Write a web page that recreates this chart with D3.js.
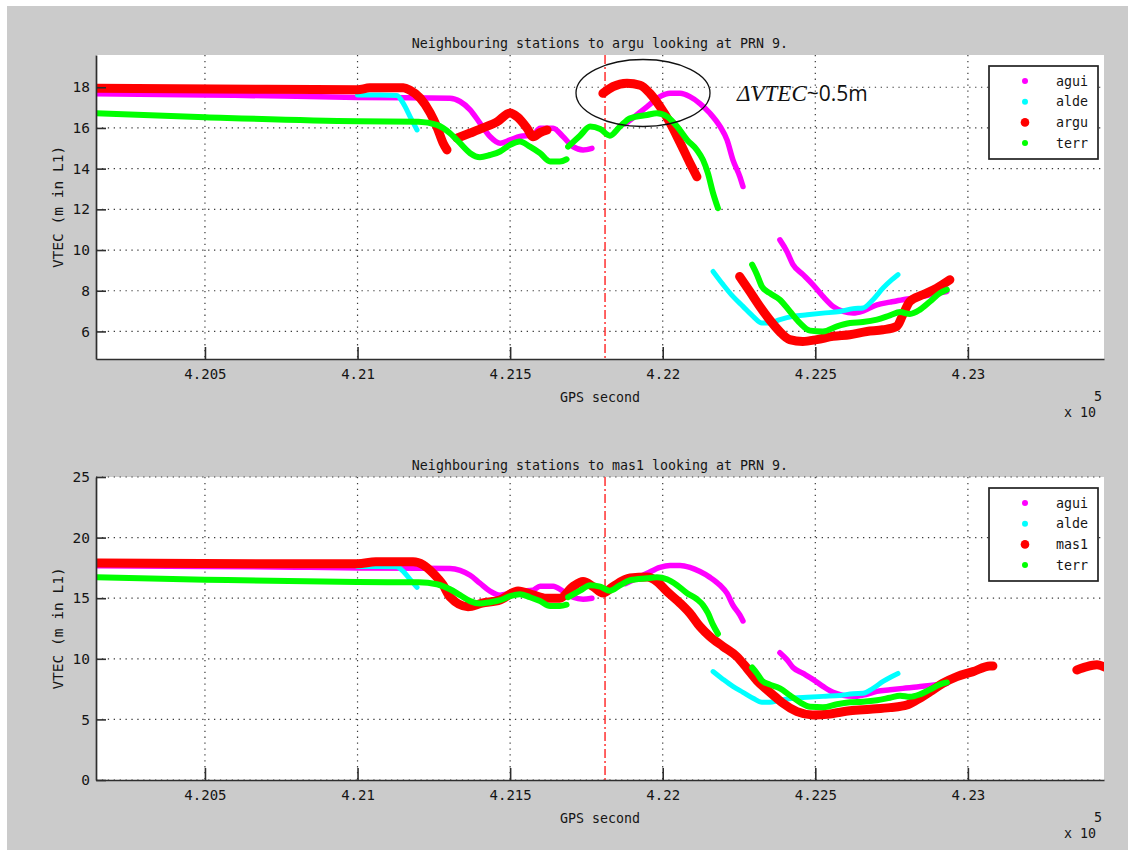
<!DOCTYPE html>
<html>
<head>
<meta charset="utf-8">
<script src="https://cdn.jsdelivr.net/npm/d3@7"></script>
<style>
  body { margin: 0; background: #fff; }
  svg { display: block; }
  .lbl { font-family: "DejaVu Sans Mono", "Liberation Mono", monospace; font-size: 13.3px; fill: #151515; }
  .axis path, .axis line { stroke: #2e2e2e; }
  .axis path { stroke-width: 1.7; }
  .axis line { stroke-width: 1.6; }
  .grid line { stroke: #3a3a3a; stroke-width: 1.2; stroke-dasharray: 1.3,4.6; }
</style>
</head>
<body>
<div id="chart"></div>
<script>
"use strict"

// ---- data (GPS second, VTEC in m of L1) ----
const xTicks = [420500, 421000, 421500, 422000, 422500, 423000];
const xTickLabels = ["4.205", "4.21", "4.215", "4.22", "4.225", "4.23"];
const yTicksTop = [6, 8, 10, 12, 14, 16, 18];
const yTicksBottom = [0, 5, 10, 15, 20, 25];
const eventGps = 421811;

const aguiGps = [420143, 420500, 420800, 421000, 421303, 421336, 421369, 421401, 421434, 421467, 421500, 421532, 421575, 421598, 421641, 421673, 421706, 421739, 421768,
  null, 421877, 421903, 421949, 421991, 422024, 422057, 422089, 422122, 422155, 422188, 422211, 422230, 422253, 422263,
  null, 422384, 422407, 422427, 422460, 422492, 422525, 422558, 422591, 422624, 422656, 422702, 422745, 422787, 422833, 422876, 422931];
const aguiVtec = [17.68, 17.62, 17.56, 17.5, 17.46, 17.3, 16.89, 16.24, 15.58, 15.25, 15.41, 15.58, 15.66, 15.99, 15.99, 15.58, 15.08, 14.92, 15.0,
  null, 16.2, 16.5, 17.05, 17.54, 17.7, 17.7, 17.54, 17.2, 16.72, 16.07, 15.4, 14.43, 13.6, 13.12,
  null, 10.5, 9.93, 9.28, 8.79, 8.3, 7.72, 7.23, 6.98, 6.9, 7.0, 7.31, 7.44, 7.56, 7.67, 7.8, 7.96];

const aldeGps = [421000, 421074, 421129, 421149, 421172, 421195,
  null, 422165, 422198, 422230, 422263, 422296, 422325, 422350, 422384, 422427, 422473, 422525, 422581, 422624, 422656, 422689, 422722, 422751, 422771];
const aldeVtec = [17.62, 17.62, 17.6, 17.23, 16.56, 15.9,
  null, 8.95, 8.3, 7.72, 7.23, 6.74, 6.41, 6.41, 6.58, 6.74, 6.82, 6.9, 6.98, 7.12, 7.15, 7.56, 8.13, 8.54, 8.79];

const arguGps = [420143, 420700, 421000, 421040, 421150, 421172, 421205, 421238, 421260, 421280, 421293,
  null, 421326, 421369, 421411, 421457, 421500, 421523, 421555, 421575, 421598, 421621,
  null, 421804, 421837, 421883, 421926, 421958, 421991, 422024, 422057, 422089, 422112,
  null, 422252, 422285, 422318, 422350, 422383, 422416, 422459, 422505, 422558, 422613, 422669, 422721, 422767, 422787, 422810, 422852, 422898, 422941];
const arguVtec = [17.95, 17.9, 17.88, 17.97, 17.97, 17.85, 17.47, 16.74, 16.05, 15.27, 14.92,
  null, 15.5, 15.75, 16.0, 16.3, 16.74, 16.55, 16.0, 15.57, 15.77, 15.9,
  null, 17.7, 18.03, 18.2, 18.1, 17.7, 17.05, 16.25, 15.27, 14.28, 13.6,
  null, 8.7, 7.97, 7.23, 6.58, 6.0, 5.6, 5.51, 5.6, 5.76, 5.84, 6.0, 6.08, 6.25, 6.82, 7.48, 7.8, 8.13, 8.54];

const mas1Gps = [420143, 420700, 421000, 421060, 421182, 421215, 421247, 421280, 421303, 421362, 421408, 421467, 421526, 421575, 421618, 421663, 421706, 421739, 421772, 421804, 421837, 421893, 421949, 421981, 422014, 422057, 422089, 422122, 422155, 422198, 422243, 422276, 422309, 422342, 422374, 422394, 422440, 422492, 422548, 422613, 422679, 422745, 422800, 422833, 422876, 422918, 422964, 423017, 423072, 423082,
  null, 423357, 423390, 423423, 423449];
const mas1Vtec = [17.9, 17.85, 17.85, 18.0, 18.0, 17.75, 17.07, 16.1, 15.1, 14.3, 14.59, 14.86, 15.6, 15.28, 15.0, 15.0, 15.96, 16.37, 15.96, 15.42, 15.96, 16.66, 16.74, 16.38, 15.55, 14.59, 13.76, 12.66, 11.83, 11.01, 10.18, 9.22, 8.2, 7.43, 6.75, 6.33, 5.64, 5.37, 5.45, 5.72, 5.84, 5.97, 6.19, 6.61, 7.29, 7.98, 8.53, 8.94, 9.41, 9.41,
  null, 9.08, 9.36, 9.5, 9.31];

const terrGps = [420143, 420500, 421000, 421200, 421260, 421303, 421336, 421369, 421401, 421434, 421467, 421500, 421532, 421565, 421598, 421631, 421663, 421685,
  null, 421690, 421729, 421762, 421795, 421827, 421860, 421893, 421949, 421981, 422014, 422047, 422080, 422112, 422132, 422148, 422165, 422181,
  null, 422293, 422309, 422325, 422350, 422384, 422417, 422450, 422483, 422525, 422571, 422614, 422656, 422702, 422745, 422778, 422810, 422843, 422876, 422909, 422931];
const terrVtec = [16.72, 16.53, 16.33, 16.31, 16.15, 15.74, 15.25, 14.76, 14.56, 14.67, 14.84, 15.17, 15.33, 15.08, 14.76, 14.35, 14.35, 14.46,
  null, 15.08, 15.62, 16.07, 15.95, 15.62, 16.07, 16.48, 16.64, 16.72, 16.56, 16.07, 15.41, 14.92, 14.43, 13.78, 12.8, 12.06,
  null, 9.28, 8.79, 8.21, 7.89, 7.56, 6.98, 6.41, 6.04, 6.0, 6.25, 6.41, 6.46, 6.58, 6.79, 6.95, 6.86, 7.07, 7.47, 7.89, 8.05];

// ---- layout ----
const W = 1136, H = 850;
const plotLeft = 96, plotRight = 1104;

function zip(xs, ys) { return xs.map((x, i) => [x, ys[i]]); }

const panels = [
  { title: "Neighbouring stations to argu looking at PRN 9.", top: 55, bottom: 359,
    yDomain: [4.645, 19.585], yTicks: yTicksTop,
    series: [
      { name: "agui", color: "#ff00ff", width: 5.5, r: 3, pts: zip(aguiGps, aguiVtec) },
      { name: "alde", color: "#00ffff", width: 5, r: 3, pts: zip(aldeGps, aldeVtec) },
      { name: "argu", color: "#ff0000", width: 9, r: 4.3, pts: zip(arguGps, arguVtec) },
      { name: "terr", color: "#00ff00", width: 6, r: 3, pts: zip(terrGps, terrVtec) }
    ], note: true },
  { title: "Neighbouring stations to mas1 looking at PRN 9.", top: 477, bottom: 780,
    yDomain: [0, 25], yTicks: yTicksBottom,
    series: [
      { name: "agui", color: "#ff00ff", width: 5.5, r: 3, pts: zip(aguiGps, aguiVtec) },
      { name: "alde", color: "#00ffff", width: 5, r: 3, pts: zip(aldeGps, aldeVtec) },
      { name: "mas1", color: "#ff0000", width: 9, r: 4.3, pts: zip(mas1Gps, mas1Vtec) },
      { name: "terr", color: "#00ff00", width: 6, r: 3, pts: zip(terrGps, terrVtec) }
    ], note: false }
];

const svg = d3.select("#chart").append("svg")
  .attr("width", W).attr("height", H);

svg.append("rect").attr("x", 7).attr("y", 6).attr("width", 1121).attr("height", 844)
  .attr("fill", "#cbcbcb");

const xScale = d3.scaleLinear().domain([420143, 423446]).range([plotLeft, plotRight]);

panels.forEach((p, pi) => {
  const yScale = d3.scaleLinear().domain(p.yDomain).range([p.bottom, p.top]);
  const g = svg.append("g");

  g.append("rect")
    .attr("x", plotLeft).attr("y", p.top)
    .attr("width", plotRight - plotLeft).attr("height", p.bottom - p.top)
    .attr("fill", "#fff");

  // grid
  const grid = g.append("g").attr("class", "grid");
  grid.selectAll(".gx").data(xTicks).enter().append("line")
    .attr("x1", d => xScale(d)).attr("x2", d => xScale(d))
    .attr("y1", p.top).attr("y2", p.bottom);
  grid.selectAll(".gy").data(p.yTicks).enter().append("line")
    .attr("x1", plotLeft).attr("x2", plotRight)
    .attr("y1", d => yScale(d)).attr("y2", d => yScale(d));

  // event marker
  g.append("line")
    .attr("x1", xScale(eventGps)).attr("x2", xScale(eventGps))
    .attr("y1", p.top).attr("y2", p.bottom)
    .attr("stroke", "#ff3030").attr("stroke-width", 1.5)
    .attr("stroke-dasharray", "9,3,2,3");

  // series
  const clipId = "clip" + pi;
  g.append("clipPath").attr("id", clipId).append("rect")
    .attr("x", plotLeft).attr("y", p.top)
    .attr("width", plotRight - plotLeft).attr("height", p.bottom - p.top);

  const line = d3.line()
    .defined(d => d[0] != null && d[1] != null)
    .x(d => xScale(d[0])).y(d => yScale(d[1]))
    .curve(d3.curveMonotoneX);

  g.append("g").attr("clip-path", `url(#${clipId})`)
    .selectAll("path").data(p.series).enter().append("path")
      .attr("d", d => line(d.pts))
      .attr("fill", "none")
      .attr("stroke", d => d.color)
      .attr("stroke-width", d => d.width)
      .attr("stroke-linecap", "round")
      .attr("stroke-linejoin", "round");

  // axes
  g.append("g").attr("class", "axis x")
    .attr("transform", `translate(0,${p.bottom})`)
    .call(d3.axisBottom(xScale).tickValues(xTicks)
      .tickFormat((d, i) => xTickLabels[i])
      .tickSizeInner(-12).tickSizeOuter(0).tickPadding(10))
    .call(a => a.selectAll("text").attr("class", "lbl").attr("fill", null)
      .style("font-size", "14px"));

  g.append("g").attr("class", "axis y")
    .attr("transform", `translate(${plotLeft},0)`)
    .call(d3.axisLeft(yScale).tickValues(p.yTicks)
      .tickSizeInner(-10).tickSizeOuter(0).tickPadding(6))
    .call(a => a.selectAll("text").attr("class", "lbl").attr("fill", null)
      .style("font-size", "14.5px"));

  g.selectAll(".axis").attr("font-family", null).attr("font-size", null);

  // texts
  g.append("text").attr("class", "lbl")
    .attr("x", (plotLeft + plotRight) / 2).attr("y", p.top - 12)
    .attr("text-anchor", "middle").attr("dominant-baseline", "central")
    .text(p.title);

  g.append("text").attr("class", "lbl")
    .attr("x", (plotLeft + plotRight) / 2).attr("y", p.bottom + 38)
    .attr("text-anchor", "middle").attr("dominant-baseline", "central")
    .text("GPS second");

  g.append("text").attr("class", "lbl")
    .attr("x", 1094).attr("y", p.bottom + 37)
    .attr("dominant-baseline", "central")
    .text("5");
  g.append("text").attr("class", "lbl")
    .attr("x", 1096).attr("y", p.bottom + 53)
    .attr("text-anchor", "end").attr("dominant-baseline", "central")
    .text("x 10");

  g.append("text").attr("class", "lbl")
    .attr("transform", `translate(58,${(p.top + p.bottom) / 2})rotate(-90)`)
    .attr("text-anchor", "middle").attr("dominant-baseline", "central")
    .style("font-size", "14.5px")
    .text("VTEC (m in L1)");

  // legend
  const lg = g.append("g").attr("transform", `translate(989,${p.top + 11})`);
  lg.append("rect").attr("width", 109).attr("height", 93)
    .attr("fill", "#fff").attr("stroke", "#222").attr("stroke-width", 1.7);
  const items = lg.selectAll(".item").data(p.series).enter().append("g")
    .attr("transform", (d, i) => `translate(0,${15 + i * 20.7})`);
  items.append("circle").attr("cx", 36).attr("r", d => d.r).attr("fill", d => d.color);
  items.append("text").attr("class", "lbl").attr("x", 67)
    .attr("dominant-baseline", "central").text(d => d.name);

  // annotation on the first panel
  if (p.note) {
    g.append("ellipse")
      .attr("cx", 643).attr("cy", 93).attr("rx", 67).attr("ry", 33.5)
      .attr("fill", "none").attr("stroke", "#111").attr("stroke-width", 1.3);
    const t = g.append("text").attr("x", 737).attr("y", 101).attr("fill", "#111");
    t.append("tspan").attr("font-family", "Liberation Serif, serif")
      .attr("font-style", "italic").attr("font-size", "23px").text("ΔVTEC");
    t.append("tspan").attr("font-family", "Open Sans, sans-serif")
      .attr("font-size", "21px").text("~0.5m");
  }
});
</script>
</body>
</html>
